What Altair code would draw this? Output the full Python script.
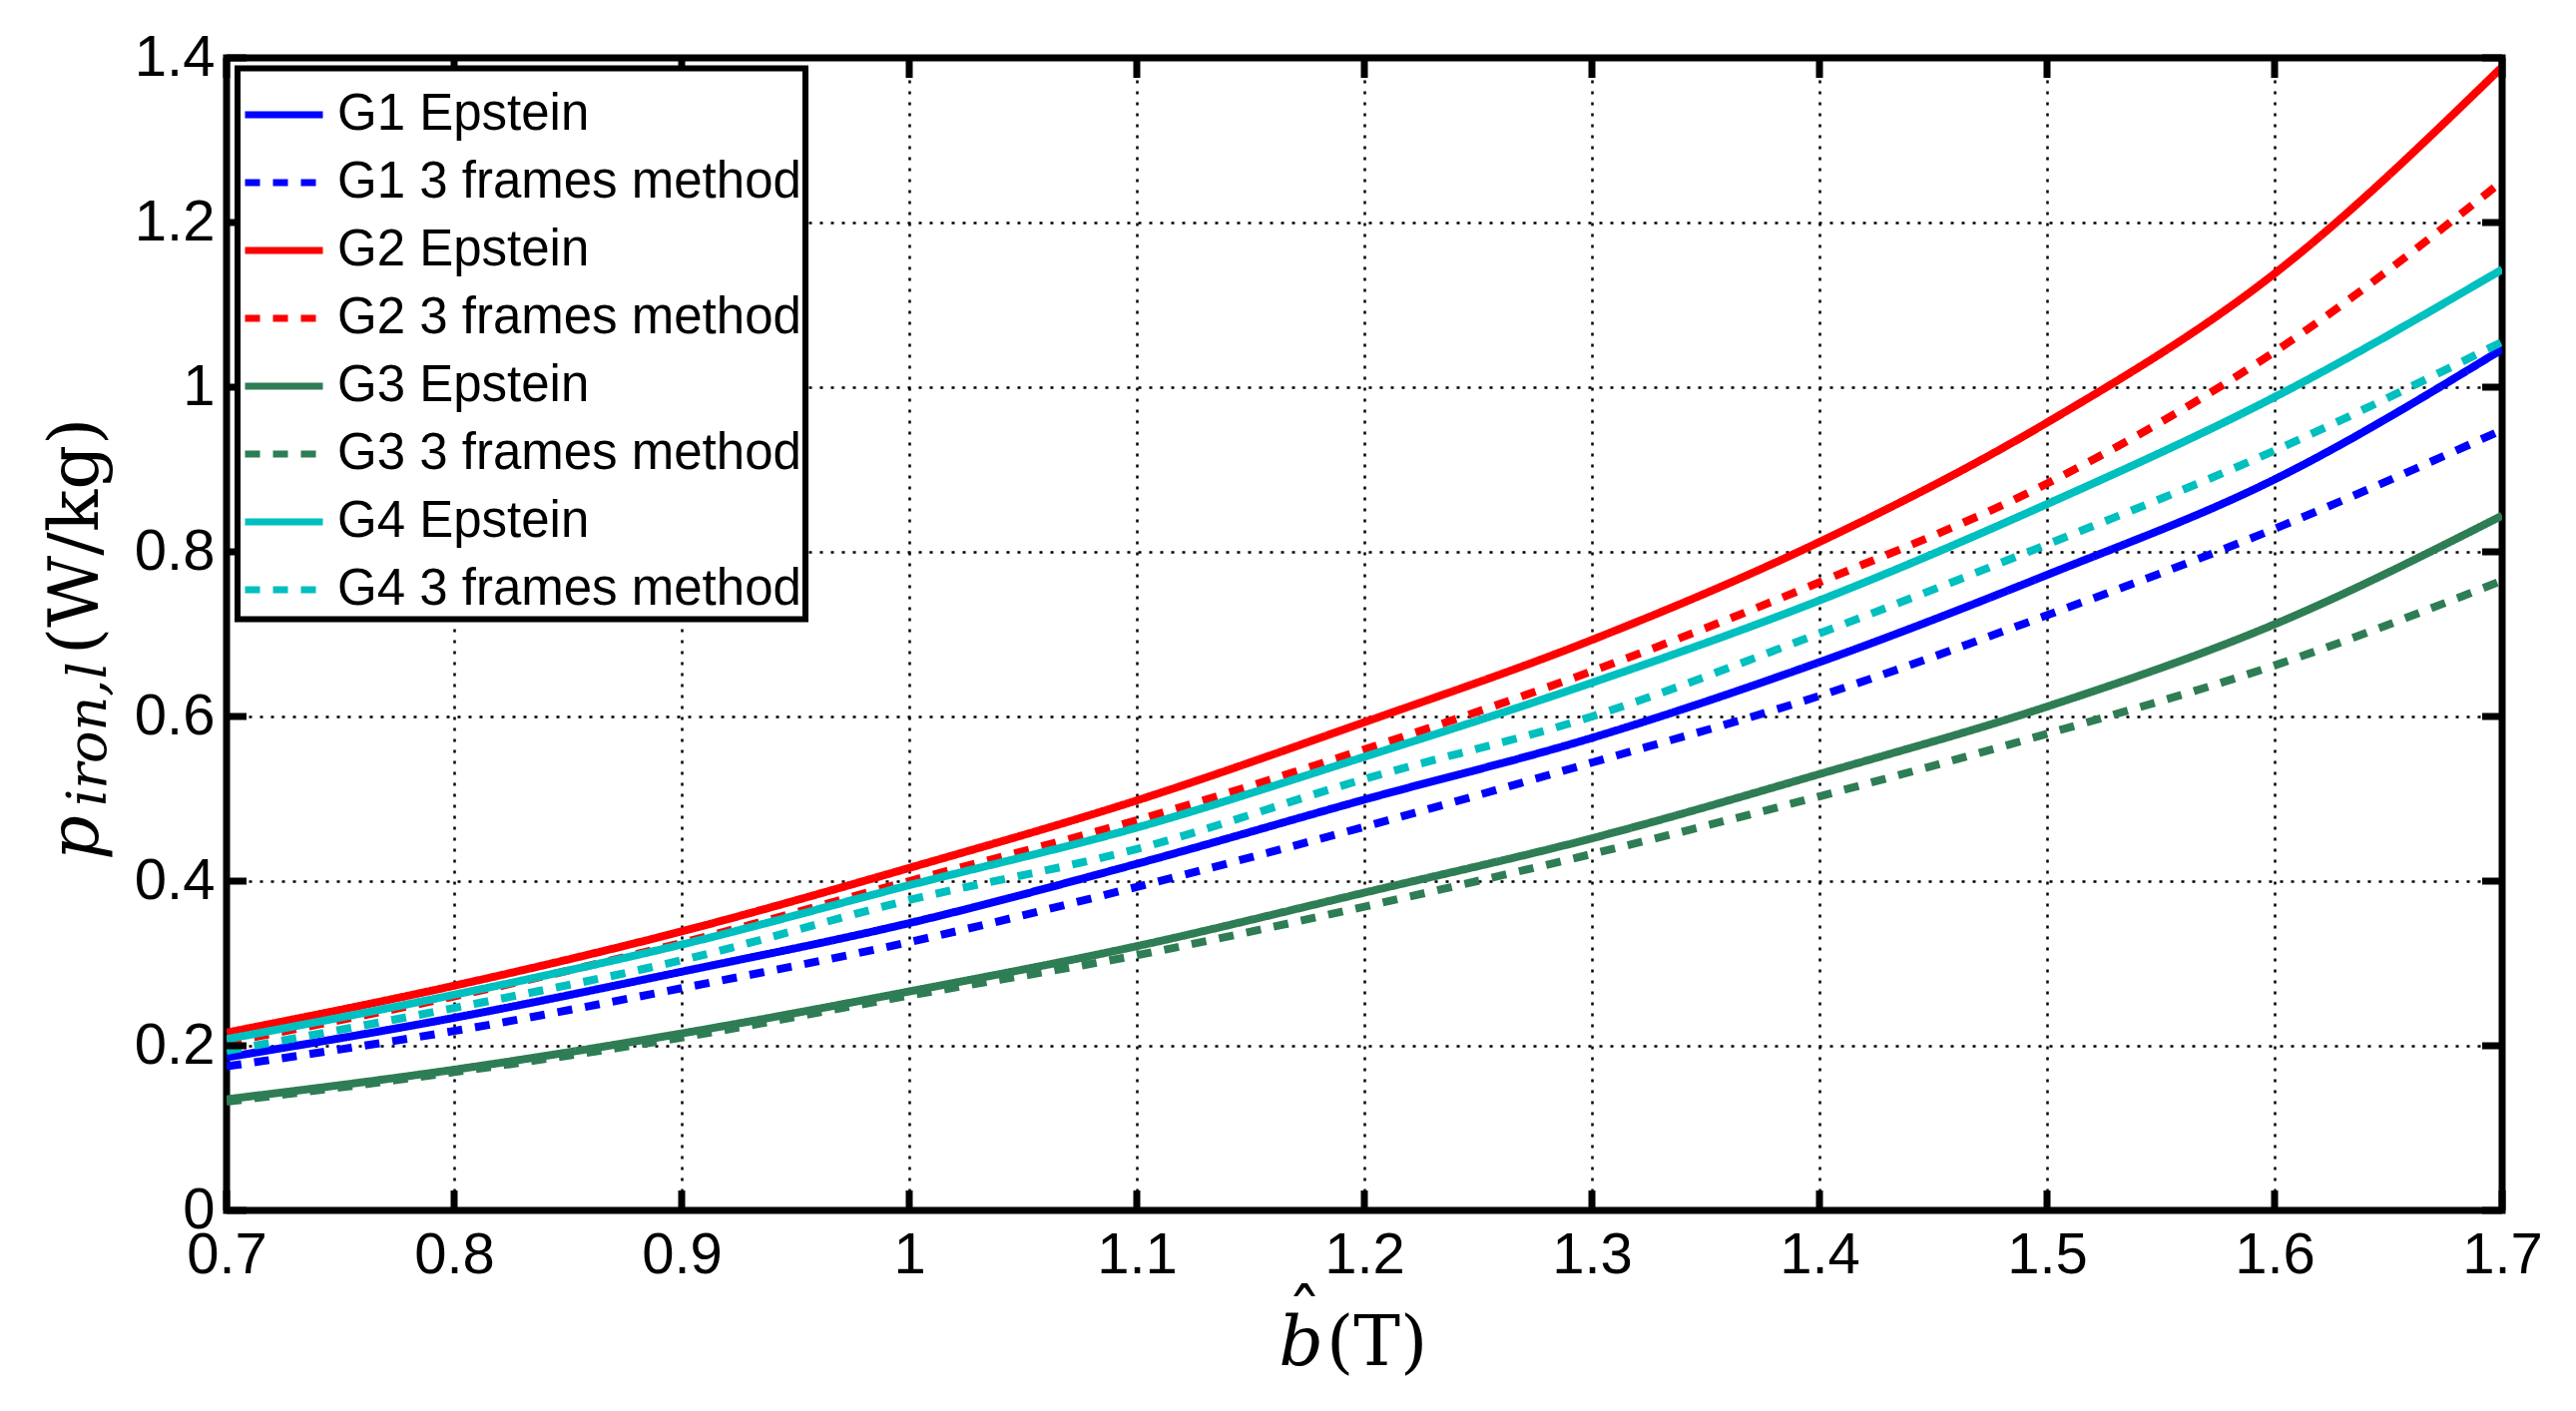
import altair as alt
import pandas as pd

# ---------------- data ----------------
b_values = [0.7, 0.8, 0.9, 1.0, 1.1, 1.2, 1.3, 1.4, 1.5, 1.6, 1.7]

g1_epstein = [0.186, 0.234, 0.290, 0.349, 0.421, 0.499, 0.574, 0.666, 0.772, 0.888, 1.046]
g1_frames = [0.175, 0.218, 0.270, 0.326, 0.393, 0.466, 0.544, 0.625, 0.723, 0.828, 0.948]
g2_epstein = [0.216, 0.273, 0.339, 0.416, 0.498, 0.593, 0.693, 0.812, 0.957, 1.138, 1.389]
g2_frames = [0.204, 0.260, 0.325, 0.400, 0.474, 0.560, 0.655, 0.763, 0.883, 1.043, 1.250]
g3_epstein = [0.135, 0.171, 0.215, 0.266, 0.321, 0.386, 0.452, 0.530, 0.612, 0.712, 0.844]
g3_frames = [0.132, 0.168, 0.210, 0.261, 0.310, 0.369, 0.433, 0.503, 0.579, 0.662, 0.765]
g4_epstein = [0.208, 0.262, 0.323, 0.395, 0.465, 0.551, 0.641, 0.741, 0.858, 0.988, 1.143]
g4_frames = [0.194, 0.246, 0.304, 0.377, 0.439, 0.524, 0.600, 0.701, 0.809, 0.923, 1.055]

series_names = [
    "G1 Epstein", "G1 3 frames method",
    "G2 Epstein", "G2 3 frames method",
    "G3 Epstein", "G3 3 frames method",
    "G4 Epstein", "G4 3 frames method",
]
series_values = [g1_epstein, g1_frames, g2_epstein, g2_frames,
                 g3_epstein, g3_frames, g4_epstein, g4_frames]

x_ticks = [0.7, 0.8, 0.9, 1.0, 1.1, 1.2, 1.3, 1.4, 1.5, 1.6, 1.7]
y_ticks = [0.0, 0.2, 0.4, 0.6, 0.8, 1.0, 1.2, 1.4]

# ---------------- styles ----------------
series_colors = ["#0000FF", "#0000FF", "#FF0000", "#FF0000",
                 "#2E7D55", "#2E7D55", "#00BFBF", "#00BFBF"]
solid = [1, 0]
dashed = [15, 13]
series_dashes = [solid, dashed, solid, dashed, solid, dashed, solid, dashed]

W, H = 2280, 1155
TICK = 20

rows = []
for name, vals in zip(series_names, series_values):
    for b, v in zip(b_values, vals):
        rows.append({"b": b, "p": v, "series": name})
df = pd.DataFrame(rows)

x_scale = alt.Scale(domain=[0.7, 1.7], nice=False, zero=False)
y_scale = alt.Scale(domain=[0.0, 1.4], nice=False, zero=False)

axis_common = dict(
    title=None, grid=True, ticks=False, domain=False,
    labelFont="Liberation Sans", labelFontSize=58, labelColor="black",
    gridColor="black", gridDash=[3, 8], gridWidth=2.5, gridOpacity=1,
    labelFlush=False, labelOverlap=False, labelBound=False, format="~g",
)
x_axis = alt.Axis(values=x_ticks, labelPadding=16, **axis_common)
y_axis = alt.Axis(values=y_ticks, labelPadding=12, **axis_common)

X = alt.X("b:Q", scale=x_scale, axis=x_axis)
Y = alt.Y("p:Q", scale=y_scale, axis=y_axis)

lines = alt.Chart(df).mark_line(strokeWidth=8, interpolate="monotone", clip=True).encode(
    x=X, y=Y,
    color=alt.Color("series:N",
                    scale=alt.Scale(domain=series_names, range=series_colors),
                    sort=series_names, legend=alt.Legend(title=None)),
    strokeDash=alt.StrokeDash("series:N",
                              scale=alt.Scale(domain=series_names, range=series_dashes),
                              sort=series_names, legend=alt.Legend(title=None)),
)

xt = pd.DataFrame({"b": x_ticks})
yt = pd.DataFrame({"p": y_ticks})
tick_style = dict(color="black", strokeWidth=7)

bottom_ticks = alt.Chart(xt).mark_rule(**tick_style).encode(
    x=X, y=alt.value(H), y2=alt.value(H - TICK))
top_ticks = alt.Chart(xt).mark_rule(**tick_style).encode(
    x=X, y=alt.value(0), y2=alt.value(TICK))
left_ticks = alt.Chart(yt).mark_rule(**tick_style).encode(
    y=Y, x=alt.value(0), x2=alt.value(TICK))
right_ticks = alt.Chart(yt).mark_rule(**tick_style).encode(
    y=Y, x=alt.value(W), x2=alt.value(W - TICK))

# ---------------- axis titles (LaTeX-like, composed of pieces) ----------------
def txt(s, x, y, size, font="DejaVu Serif", style="normal", angle=0, align="left"):
    return alt.Chart(pd.DataFrame({"t": [s]})).mark_text(
        font=font, fontSize=size, fontStyle=style, angle=angle, align=align,
        baseline="alphabetic", color="black",
    ).encode(text="t:N", x=alt.value(x), y=alt.value(y))

# x title: b-hat (T)
xt_b = txt("b", 1099, 1309.5, 70, style="italic", align="right")
xt_hat = txt("\u02c6", 1080, 1284, 70, align="center")
xt_T = txt("(T)", 1102, 1309.5, 70, align="left")

# y title: p_{iron,l}(W/kg), rotated
yt_p = txt("p", -129, 804, 70, style="italic", angle=270, align="left")
yt_sub = txt("iron,l", -121, 750, 54, style="italic", angle=270, align="left")
yt_unit = txt("(W/kg)", -129, 598, 70, angle=270, align="left")

chart = alt.layer(
    lines, bottom_ticks, top_ticks, left_ticks, right_ticks,
    xt_b, xt_hat, xt_T, yt_p, yt_sub, yt_unit,
).properties(
    width=W, height=H,
    autosize=alt.AutoSizeParams(type="none"),
    padding={"left": 219, "top": 50, "right": 60, "bottom": 180},
).configure_view(
    stroke="black", strokeWidth=7,
).configure_legend(
    orient="none", legendX=11, legendY=10.5,
    padding=4, labelFont="Liberation Sans", labelFontSize=51, labelColor="black",
    symbolType="stroke", symbolSize=78 * 78, symbolStrokeWidth=7,
    labelOffset=11, labelLimit=0, rowPadding=-1,
    strokeColor="black", strokeWidth=6, fillColor="white", cornerRadius=0,
)

chart.save("out.html", embed_options={"renderer": "svg", "actions": False})
